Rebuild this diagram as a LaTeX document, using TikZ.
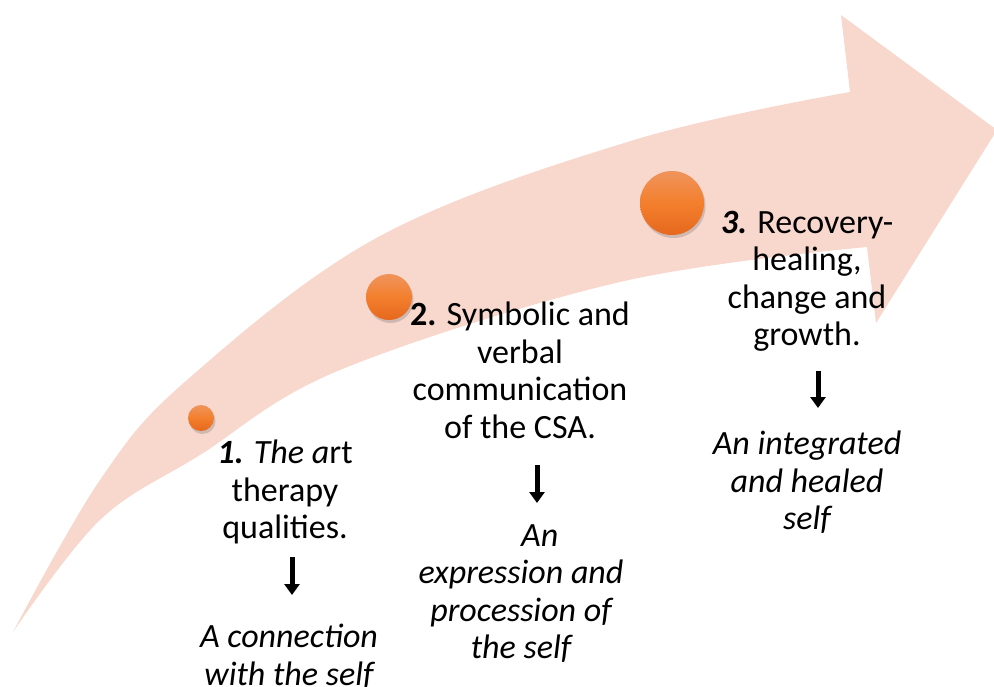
\documentclass[tikz,border=0pt]{standalone}
\usepackage{fontspec}
\setmainfont{Carlito}
\usepackage{tikz}
\usetikzlibrary{arrows.meta,shadows}
\definecolor{arrowpink}{RGB}{248,215,204}
\definecolor{dotorange}{RGB}{243,127,45}
\definecolor{dotlight}{RGB}{240,148,92}
\definecolor{dotdark}{RGB}{230,104,30}

\tikzset{
  stepdot/.style={circle, inner sep=0pt, top color=dotlight, bottom color=dotdark, middle color=dotorange,
    drop shadow={shadow xshift=1.5pt, shadow yshift=-3pt, opacity=0.35}},
  steptext/.style={align=center, anchor=north, inner sep=0pt, font=\fontsize{34}{37.5}\selectfont},
  resulttext/.style={steptext, font=\fontsize{34}{37.5}\selectfont\itshape},
  downarr/.style={-{Triangle[width=15pt,length=11pt]}, line width=5pt}
}

\begin{document}
\begin{tikzpicture}[x=1pt, y=-1pt]
    \useasboundingbox (0,0) rectangle (994,686);

    % Freccia curva
    \fill[arrowpink] plot[smooth, tension=0.6] coordinates {(13,632) (100,480) (187,380) (380,236) (634,140) (850,92)}
        -- (841,15) -- (997,130) -- (876,323) -- (867,247)
        -- plot[smooth, tension=0.6] coordinates {(867,247) (620,282) (340,370) (200,455) (100,520) (13,632)} -- cycle;

    % Punti
    \node[stepdot, minimum size=26pt] (c1) at (201,418) {};
    \node[stepdot, minimum size=46pt] (c2) at (389,297) {};
    \node[stepdot, minimum size=64pt] (c3) at (672,203) {};

    % Fasi
    \node[steptext] (t1) at (285,440) {\textbf{\textit{1.}} \textit{The a}rt\\therapy\\qualities.};
    \node[steptext] (t2) at (520,302) {\textbf{2.} Symbolic and\\verbal\\communication\\of the CSA.};
    \node[steptext] (t3) at (807,211) {\textbf{\textit{3.}} Recovery-\\healing,\\change and\\growth.};

    % Risultati
    \node[resulttext] (r1) at (289,624) {A connection\\with the self};
    \node[resulttext] (r2) at (521,524) {\hspace*{1.1em}An\\expression and\\procession of\\the self};
    \node[resulttext] (r3) at (807,431) {An integrated\\and healed\\self};

    % Frecce
    \draw[downarr, shorten <=13pt, shorten >=29pt] ([xshift=7pt]t1.south) -- ([xshift=7pt]t1.south |- r1.north);
    \draw[downarr, shorten <=26pt, shorten >=21pt] ([xshift=17pt]t2.south) -- ([xshift=17pt]t2.south |- r2.north);
    \draw[downarr, shorten <=19pt, shorten >=23pt] ([xshift=11pt]t3.south) -- ([xshift=11pt]t3.south |- r3.north);
\end{tikzpicture}
\end{document}
